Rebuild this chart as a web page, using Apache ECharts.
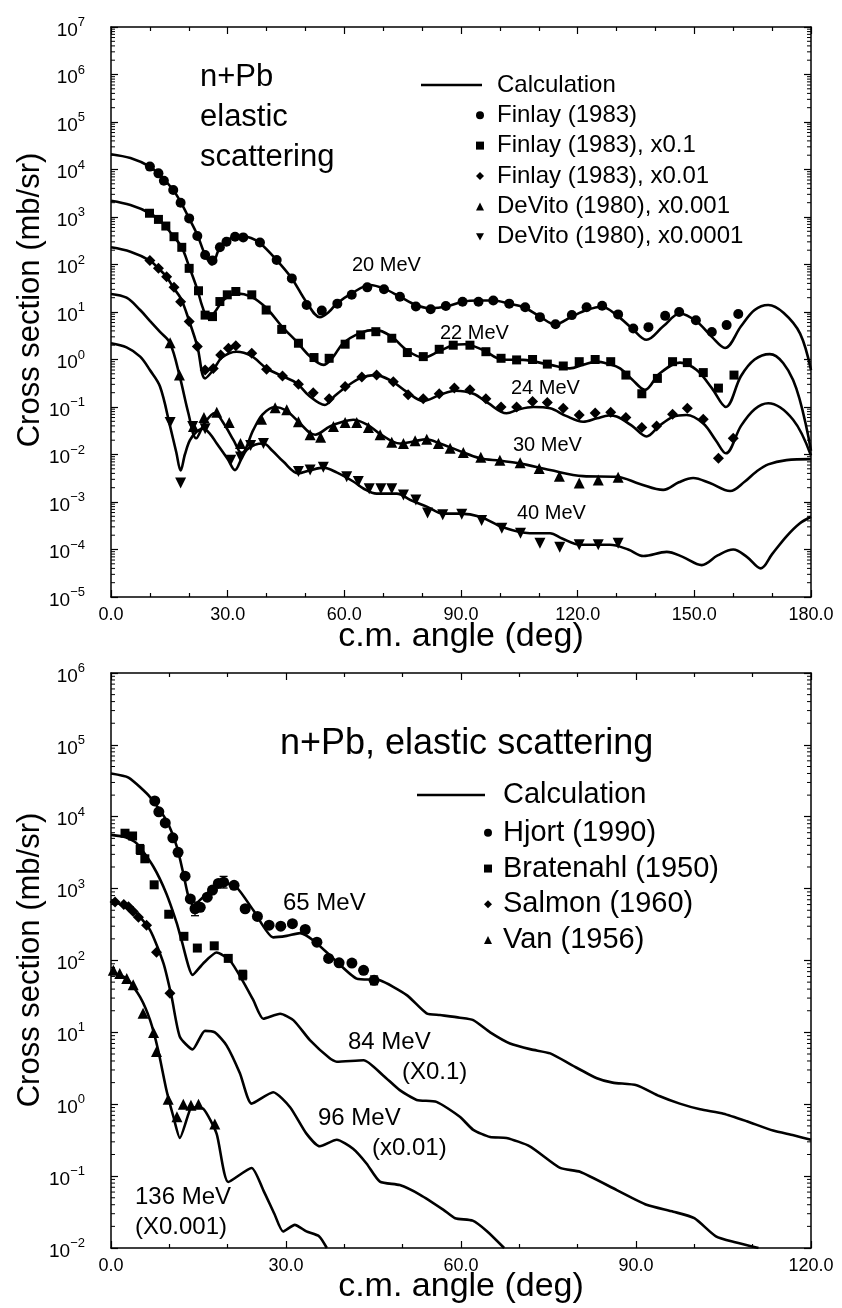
<!DOCTYPE html>
<html>
<head>
<meta charset="utf-8">
<script src="https://cdn.jsdelivr.net/npm/echarts@6/dist/echarts.min.js"></script>
<style>
html,body{margin:0;padding:0;background:#fff;}
#chart{width:842px;height:1308px;}
</style>
</head>
<body>
<div id="chart"></div>
<script>
// ---------------- TOP PANEL DATA (angle deg, mb/sr) ----------------
const calc20 = [[0,21000],[5,17400],[10,11500],[13,7000],[16,3700],[18,2000],[20.1,930],[22.2,420],[24.2,160],[25.9,100],[28,230],[30,330],[31.9,385],[33.6,398],[36,360],[38.3,284],[42.6,124],[46.5,51],[50.3,16],[53.7,7.8],[56,10],[58,15],[62,25],[66.6,37],[70.2,31],[74.3,21],[78.4,14],[82,12],[86.3,13],[90.6,16.6],[94.5,17.5],[98.3,17.4],[102.4,15],[106,12.7],[110.3,8],[114.2,5.5],[118.5,8],[122.3,11],[126.2,12.9],[130,8.6],[134,4.5],[137.7,2.6],[142,5],[146.3,9.3],[150.6,6.3],[154.5,3],[157.9,1.75],[162,5],[165.5,11],[169,14],[173,9.5],[177.2,3.5],[180,0.6]];
const calc22 = [[0,2200],[5,1780],[10,1200],[13,780],[16,400],[18.2,230],[20.1,90],[22.2,30],[23.5,13],[25,7.4],[26.5,9.5],[29,18],[32.3,24.6],[36,21],[40,12],[43.9,5],[47.7,2.4],[51,1.2],[54.6,0.77],[57,1.1],[59.7,2.2],[64,3.6],[67.9,4.2],[72,3.1],[76,1.58],[80.3,1.1],[84.4,1.5],[88,2.0],[91,2.1],[95.7,1.58],[100.5,1.0],[106,0.98],[112.9,0.77],[118,0.65],[121.5,0.78],[124.9,0.9],[128,0.8],[130.9,0.65],[134,0.38],[137.3,0.23],[141,0.5],[146.3,0.86],[150.6,0.6],[154.5,0.25],[158.1,0.1],[162,0.45],[165.5,1.0],[169.4,1.3],[175.4,0.37],[180,0.012]];
const calc24 = [[0,230],[5,186],[10,121],[12.2,83],[14.3,55],[16,33],[18,19],[20.1,6.5],[22.2,1.9],[24.2,0.4],[26.3,0.6],[28.5,1.1],[32.3,1.46],[36,1.2],[40,0.65],[44,0.45],[47.7,0.32],[51,0.17],[55,0.11],[57.5,0.17],[60.6,0.27],[64,0.4],[67.9,0.47],[72,0.36],[76,0.21],[80.3,0.134],[84.6,0.18],[88.5,0.22],[93.2,0.19],[97,0.12],[101.7,0.074],[105,0.09],[108.6,0.10],[112.9,0.094],[117,0.065],[121.4,0.049],[125,0.058],[128,0.066],[130,0.063],[134,0.04],[137.7,0.024],[141,0.04],[144.5,0.062],[148,0.068],[152.3,0.045],[155.5,0.02],[158.1,0.0106],[162,0.04],[165.5,0.09],[169,0.12],[175.4,0.054],[180,0.0095]];
const calc30 = [[0,24],[4,20],[7.5,11],[10,6.5],[12.6,3.8],[15.2,2.2],[17.7,0.43],[19.9,0.074],[21.9,0.022],[24,0.045],[26.7,0.075],[29,0.045],[31.5,0.02],[33.6,0.0106],[36.6,0.033],[39,0.07],[42.2,0.10],[45,0.085],[47.7,0.054],[52.5,0.026],[56.3,0.039],[60,0.05],[62.3,0.054],[66,0.042],[69.2,0.027],[74.3,0.017],[78,0.019],[81.1,0.021],[84.6,0.017],[88.9,0.0125],[94.9,0.0083],[100,0.0074],[105.2,0.0065],[112.9,0.0047],[121.4,0.0035],[130,0.0034],[136,0.0024],[142,0.0018],[146,0.0026],[149.7,0.0032],[154,0.0025],[159.2,0.0017],[163,0.0027],[166,0.0044],[169,0.0062],[173.7,0.0076],[180,0.008]];
const calc40 = [[0,2.2],[4,1.8],[7.5,1.15],[10,0.6],[12.6,0.27],[15.2,0.039],[16.8,0.011],[17.9,0.0046],[19,0.01],[20.3,0.02],[22,0.03],[23.7,0.035],[25.5,0.027],[27.2,0.017],[30,0.008],[31.9,0.0047],[33.5,0.008],[34.9,0.0125],[37,0.016],[39.2,0.017],[41.5,0.012],[44.3,0.0071],[48.2,0.004],[51,0.0046],[54.6,0.0053],[58,0.0042],[62.3,0.0027],[65,0.0019],[68.3,0.0015],[73.5,0.0015],[77,0.0011],[81.2,0.0008],[85.5,0.00057],[89.7,0.00057],[94.9,0.00049],[100.9,0.00029],[107.7,0.00022],[112.9,0.00022],[116,0.00017],[120.6,0.000126],[128.3,0.000126],[133,0.0001],[136.9,0.000073],[142.9,0.000089],[147,0.00007],[151.9,0.000047],[156,0.000075],[160,0.0001],[163.5,0.00007],[167.1,0.00004],[170,0.00008],[173.7,0.00019],[177,0.00035],[180,0.00049]];

const finlay20 = [[10,11500],[12.2,8300],[13.6,5800],[16,3700],[17.9,2000],[20.1,935],[22.2,398],[24.2,158],[26.1,121],[28,230],[29.7,300],[31.9,385],[34,372],[38.3,290],[42.6,124],[46.5,51],[50.3,14],[54.2,10.7],[58.2,15],[61.9,23],[65.9,33],[70.2,30],[74.3,21],[78.4,13],[82.2,11.4],[86.1,13.4],[90.4,16.5],[94.5,16.5],[98.3,17.4],[102.4,15],[106.5,12.6],[110.3,7.8],[114.3,5.5],[118.5,8.6],[122.3,12.6],[126.3,13.5],[130.4,8.9],[134.3,4.5],[138.2,4.8],[142.5,8.3],[146.1,10],[150.4,6.7],[154.5,3.8],[158.3,5.3],[161.3,9.1]];
const finlay22 = [[9.9,1200],[12.2,890],[14.1,645],[16.2,385],[18.2,230],[20.1,83],[22.5,28],[24.2,8.6],[26.1,8],[28,16.6],[29.9,23],[32.1,27],[36.2,23],[39.9,11],[43.9,4.3],[48.2,2.2],[52.2,1.1],[56.1,1.06],[60.2,2.1],[64.2,3.3],[68.1,3.85],[72.2,2.8],[76.2,1.4],[80.3,1.15],[84.4,1.64],[88,2.0],[92.3,2.0],[96.4,1.46],[100.3,1.06],[104.3,0.98],[108.4,1.0],[112.2,0.8],[116.3,0.73],[120.4,0.9],[124.5,1.0],[128.5,0.9],[132.4,0.47],[136.5,0.19],[140.5,0.4],[144.4,0.9],[148.2,0.86],[152.3,0.53],[156.2,0.25],[160.2,0.47]];
const finlay24 = [[10,121],[12.2,83],[14.3,55],[16.2,33],[17.9,16.5],[20.1,6.3],[22.2,1.87],[24.2,0.6],[26.3,0.65],[28.2,1.24],[30.2,1.72],[32.1,1.95],[36.2,1.35],[40,0.62],[44.1,0.45],[48.2,0.30],[52,0.2],[56.1,0.15],[60.2,0.27],[64.5,0.43],[68.3,0.47],[72.6,0.34],[76.4,0.18],[80.3,0.15],[84.4,0.19],[88.3,0.25],[92.3,0.23],[96.4,0.15],[100.3,0.1],[104.3,0.1],[108.4,0.13],[112.2,0.125],[116.3,0.094],[120.4,0.068],[124.5,0.075],[128.5,0.078],[132.4,0.06],[136.5,0.037],[140.3,0.04],[144.4,0.07],[148.2,0.094],[152.3,0.055],[156.2,0.0083],[160,0.022]];
const devito30 = [[15.2,2.25],[17.6,0.47],[21.2,0.039],[23.9,0.06],[27.2,0.078],[30.4,0.047],[33.3,0.017],[38.7,0.055],[42.2,0.097],[45.2,0.087],[48.2,0.049],[51.2,0.026],[53.9,0.023],[57.2,0.039],[60.2,0.047],[63.2,0.047],[66.2,0.037],[69.2,0.026],[72.2,0.018],[75.2,0.017],[78.2,0.0195],[81.2,0.021],[84.2,0.017],[87.2,0.0135],[90.6,0.011],[95.1,0.0087],[100,0.0076],[105.2,0.0067],[110.1,0.0051],[115.3,0.0035],[120.4,0.0025],[125.3,0.0029],[130.4,0.0033]];
const devito40 = [[15.2,0.047],[17.9,0.0025],[21,0.039],[24.2,0.035],[30.8,0.0076],[33.3,0.0089],[35.9,0.0155],[39.2,0.017],[48.2,0.0044],[51.2,0.0047],[54.6,0.0054],[60.6,0.0034],[63.6,0.0027],[66.4,0.0019],[69.4,0.0019],[72.2,0.0019],[75.2,0.0014],[78.4,0.0011],[81.4,0.00059],[85.3,0.00054],[90.2,0.00055],[95.3,0.00041],[100.5,0.00028],[105.3,0.00022],[110.3,0.000135],[115.4,0.000112],[120.4,0.000126],[125.3,0.000126],[130.4,0.000135]];

// ---------------- BOTTOM PANEL DATA ----------------
const calc65 = [[0,40000],[3,35000],[6.7,18800],[9.5,8900],[11.3,3800],[12.4,1620],[13.3,760],[14.1,590],[16.4,850],[19,1230],[21.5,1050],[24.4,500],[27.8,210],[30.1,220],[32.4,240],[34.7,190],[38.1,107],[42.1,56],[46.1,53],[50.7,33],[54.1,18.4],[56.4,17.4],[59.8,16],[62.1,14.8],[65,10],[68.4,7],[72,5.8],[75.3,5.1],[79,3.5],[83.3,2.3],[86,2.0],[90.1,1.84],[94,1.3],[97.5,1.02],[101,0.85],[105,0.74],[109,0.58],[113.5,0.43],[117,0.37],[120,0.32]];
const calc84 = [[0,5600],[2.5,5200],[4.4,4270],[7.3,2000],[9.5,850],[11.3,325],[12.1,190],[14,63],[15.8,91],[18.1,129],[20.4,100],[22.7,50],[24.4,28],[26.1,15.5],[29,18.2],[31.3,14.7],[34.1,7.8],[37.5,4.35],[38.7,3.9],[43.3,4.1],[46.7,2.5],[49.5,1.57],[52.4,1.15],[55.8,1.08],[59.8,0.67],[62.1,0.44],[65,0.35],[67.8,0.34],[71.8,0.26],[77,0.13],[80.4,0.115],[86.7,0.064],[91.8,0.04],[96.4,0.032],[100,0.026],[103.7,0.0145],[107,0.012],[111,0.01]];
const calc96 = [[0,680],[3.8,500],[6.7,265],[9,91],[10.4,31],[11.8,8.7],[14,5.8],[16.1,10.5],[17.8,10],[19.8,6.6],[22.1,2.7],[24.1,1.02],[27.8,1.47],[30.7,0.91],[33.5,0.39],[35.8,0.26],[38.7,0.32],[41.5,0.24],[43.8,0.15],[46.1,0.084],[49.5,0.075],[53,0.055],[57,0.034],[59,0.026],[62,0.024],[64.5,0.017],[67.4,0.01]];
const calc136 = [[0,69],[2.7,56],[5,31],[6.7,14.8],[8.1,5.6],[9.5,1.58],[10.7,0.67],[11.8,0.34],[13.3,0.74],[13.8,0.91],[15.8,0.87],[18.1,0.39],[20.1,0.083],[24.1,0.13],[26.1,0.064],[28,0.03],[29.5,0.017],[31.5,0.021],[33.5,0.017],[35.7,0.0145],[37,0.01]];

const hjort = [[7.5,16600],[8.2,11700],[9.3,8200],[10.6,5100],[11.5,3200],[12.7,1490],[13.6,720],[14.4,525],[15.3,550],[16.5,760],[17.4,955],[18.4,1180],[19.3,1230],[21.1,1110],[23,525],[25.1,410],[27.1,310],[29.1,300],[31.1,325],[33.3,270],[35.3,180],[37.3,107],[39.1,93],[41.3,92],[43.3,73],[45.1,53]];
const bratenahl = [[2.4,5900],[3.7,5400],[5,3500],[5.8,2600],[7.4,1130],[9.9,440],[12.5,217],[14.8,149],[17.7,160],[20.1,107],[22.6,63]];
const salmon = [[0.7,650],[2.2,600],[3,560],[3.8,480],[4.7,400],[6.1,310],[7.8,130],[10.1,35]];
const van = [[0.4,73],[1.5,66],[2.7,56],[3.8,46],[5.5,18.4],[7.3,10],[7.8,5.4],[9.8,1.17],[11.3,0.67],[12.4,1.0],[13.7,0.97],[15,1.0],[17.8,0.53]];
// error bars: [angle, low, high]
const errorBars = [[14.4,420,650],[19.3,1020,1480],[45.1,46,61],[5,3000,4100],[22.6,54,73]];

// axis labels
const xLabelsTop = [0,30,60,90,120,150,180];
const xLabelsBottom = [0,30,60,90,120];

const FONT = "'Liberation Sans', Arial, Helvetica, sans-serif";
const BLACK = '#000';

function minorTickValues(lo, hi) {
  const out = [];
  for (let e = lo; e < hi; e++) for (let m = 2; m <= 9; m++) out.push(m * Math.pow(10, e));
  return out;
}
function yLabel(v) {
  const e = Math.round(Math.log10(v));
  return '{b|10}{s|' + (e < 0 ? '\u2212' + (-e) : e) + '}';
}
const yRich = {
  b: {fontSize: 19, fontFamily: FONT, color: BLACK, padding: [7, 0, 0, 0]},
  s: {fontSize: 13, fontFamily: FONT, color: BLACK, padding: [0, 0, 9, 0]}
};

function xAxes(gridIndex, max, labels) {
  const base = {
    gridIndex, type: 'value', min: 0, max, interval: 30,
    axisLine: {show: true, onZero: false, lineStyle: {color: BLACK, width: 1.5}},
    axisTick: {show: true, inside: true, length: 7, lineStyle: {color: BLACK, width: 1.2}},
    minorTick: {show: true, splitNumber: 3, length: 4, lineStyle: {color: BLACK, width: 1.2}},
    splitLine: {show: false}, minorSplitLine: {show: false}
  };
  return [
    Object.assign({}, base, {position: 'bottom', axisLabel: {show: true, margin: 9, fontSize: 18, fontFamily: FONT, color: BLACK,
      formatter: v => labels.indexOf(v) >= 0 ? v.toFixed(1) : ''}}),
    Object.assign({}, base, {position: 'top', axisLabel: {show: false}})
  ];
}
function yAxes(gridIndex, min, max) {
  const base = {
    gridIndex, type: 'log', logBase: 10, min, max, interval: 1,
    axisLine: {show: true, onZero: false, lineStyle: {color: BLACK, width: 1.5}},
    axisTick: {show: true, inside: true, length: 7, lineStyle: {color: BLACK, width: 1.2}},
    splitLine: {show: false}
  };
  return [
    Object.assign({}, base, {position: 'left', axisLabel: {show: true, margin: 26, formatter: yLabel, rich: yRich}}),
    Object.assign({}, base, {position: 'right', axisLabel: {show: false}})
  ];
}

function tickSeries(xi, yi, xmax, vals) {
  return {
    type: 'custom', xAxisIndex: xi, yAxisIndex: yi, silent: true, clip: false, z: 5,
    data: vals.map(v => [0, v]),
    renderItem: function (params, api) {
      const v = api.value(1);
      const l = api.coord([0, v]);
      const r = api.coord([xmax, v]);
      const st = {stroke: BLACK, lineWidth: 1};
      return {type: 'group', children: [
        {type: 'line', shape: {x1: l[0], y1: l[1], x2: l[0] + 4, y2: l[1]}, style: st},
        {type: 'line', shape: {x1: r[0] - 4, y1: r[1], x2: r[0], y2: r[1]}, style: st}
      ]};
    }
  };
}

function calcLine(data, xi, yi, smooth) {
  return {name: 'Calculation', type: 'line', xAxisIndex: xi, yAxisIndex: yi, data,
    showSymbol: false, symbol: 'none', smooth, z: 2,
    lineStyle: {color: BLACK, width: 2.6}, itemStyle: {color: BLACK}};
}
function dots(name, data, xi, yi, symbol, size) {
  return {name, type: 'scatter', xAxisIndex: xi, yAxisIndex: yi, data, symbol, symbolSize: size, z: 3,
    itemStyle: {color: BLACK, opacity: 1}};
}
const TRI_DOWN = 'path://M0,0 L10,0 L5,9 Z';

function txt(text, x, y, size, align) {
  return {type: 'text', x, y, z: 10, style: {text, fontSize: size, fontFamily: FONT, fill: BLACK,
    align: align || 'left', verticalAlign: 'middle', textAlign: align || 'left', textVerticalAlign: 'middle'}};
}

const chart = echarts.init(document.getElementById('chart'), null, {renderer: 'canvas'});
const legendText = (size, lh, padLeft) => ({fontSize: size, fontFamily: FONT, color: BLACK, lineHeight: lh, padding: [0, 0, 0, padLeft]});

chart.setOption({
  backgroundColor: '#fff',
  animation: false,
  grid: [
    {left: 111, top: 27, width: 700, height: 570},
    {left: 111, top: 673, width: 700, height: 575}
  ],
  xAxis: [].concat(xAxes(0, 180, xLabelsTop), xAxes(1, 120, xLabelsBottom)),
  yAxis: [].concat(yAxes(0, 1e-5, 1e7), yAxes(1, 1e-2, 1e6)),
  legend: [
    {data: [{name: 'Calculation', icon: 'rect'}], left: 421, top: 70, orient: 'vertical', itemWidth: 61, itemHeight: 2.6, itemGap: 0, padding: 0,
      selectedMode: false, textStyle: legendText(24, 30, 10)},
    {data: [{name: 'Finlay (1983)', icon: 'circle'}, {name: 'Finlay (1983), x0.1', icon: 'rect'}, {name: 'Finlay (1983), x0.01', icon: 'diamond'},
      {name: 'DeVito (1980), x0.001', icon: 'triangle'}, {name: 'DeVito (1980), x0.0001', icon: TRI_DOWN}],
      left: 476, top: 100, orient: 'vertical', itemWidth: 8, itemHeight: 8, itemGap: 0, padding: 0,
      selectedMode: false, textStyle: legendText(24, 30.4, 8)},
    {data: [{name: 'Calculation', icon: 'rect'}], left: 417, top: 777, orient: 'vertical', itemWidth: 68, itemHeight: 2.6, itemGap: 0, padding: 0,
      selectedMode: false, textStyle: legendText(29, 36, 13)},
    {data: [{name: 'Hjort (1990)', icon: 'circle'}, {name: 'Bratenahl (1950)', icon: 'rect'}, {name: 'Salmon (1960)', icon: 'diamond'},
      {name: 'Van (1956)', icon: 'triangle'}],
      left: 484, top: 815, orient: 'vertical', itemWidth: 8, itemHeight: 8, itemGap: 0, padding: 0,
      selectedMode: false, textStyle: legendText(29, 35.7, 6)}
  ],
  series: [
    calcLine(calc20, 0, 0, 0.35), calcLine(calc22, 0, 0, 0.35), calcLine(calc24, 0, 0, 0.35),
    calcLine(calc30, 0, 0, 0.35), calcLine(calc40, 0, 0, 0.35),
    dots('Finlay (1983)', finlay20, 0, 0, 'circle', 10),
    dots('Finlay (1983), x0.1', finlay22, 0, 0, 'rect', 9),
    dots('Finlay (1983), x0.01', finlay24, 0, 0, 'diamond', 11),
    dots('DeVito (1980), x0.001', devito30, 0, 0, 'triangle', 11),
    dots('DeVito (1980), x0.0001', devito40, 0, 0, TRI_DOWN, 11),
    tickSeries(0, 0, 180, minorTickValues(-5, 7)),

    calcLine(calc65, 2, 2, 0.2), calcLine(calc84, 2, 2, 0.2), calcLine(calc96, 2, 2, 0.2), calcLine(calc136, 2, 2, 0.2),
    dots('Hjort (1990)', hjort, 2, 2, 'circle', 11),
    dots('Bratenahl (1950)', bratenahl, 2, 2, 'rect', 9),
    dots('Salmon (1960)', salmon, 2, 2, 'diamond', 11),
    dots('Van (1956)', van, 2, 2, 'triangle', 11),
    {
      type: 'custom', xAxisIndex: 2, yAxisIndex: 2, silent: true, z: 4,
      data: errorBars,
      renderItem: function (params, api) {
        const a = api.coord([api.value(0), api.value(1)]);
        const b = api.coord([api.value(0), api.value(2)]);
        const st = {stroke: BLACK, lineWidth: 1.3};
        return {type: 'group', children: [
          {type: 'line', shape: {x1: a[0], y1: a[1], x2: b[0], y2: b[1]}, style: st},
          {type: 'line', shape: {x1: a[0] - 4, y1: a[1], x2: a[0] + 4, y2: a[1]}, style: st},
          {type: 'line', shape: {x1: b[0] - 4, y1: b[1], x2: b[0] + 4, y2: b[1]}, style: st}
        ]};
      }
    },
    tickSeries(2, 2, 120, minorTickValues(-2, 6))
  ],
  graphic: [
    txt('n+Pb', 200, 77, 31), txt('elastic', 200, 117, 31), txt('scattering', 200, 157, 31),
    txt('20 MeV', 352, 265, 20), txt('22 MeV', 440, 333, 20), txt('24 MeV', 511, 388, 20),
    txt('30 MeV', 513, 445, 20), txt('40 MeV', 517, 513, 20),
    txt('c.m. angle (deg)', 461, 637, 34, 'center'),
    Object.assign(txt('Cross section (mb/sr)', 30, 300, 31, 'center'), {rotation: Math.PI / 2}),

    txt('n+Pb, elastic scattering', 280, 744, 36),
    txt('65 MeV', 283, 903, 24),
    txt('84 MeV', 348, 1042, 24), txt('(X0.1)', 402, 1072, 24),
    txt('96 MeV', 318, 1118, 24), txt('(x0.01)', 372, 1148, 24),
    txt('136 MeV', 135, 1197, 24), txt('(X0.001)', 135, 1227, 24),
    txt('c.m. angle (deg)', 461, 1287, 34, 'center'),
    Object.assign(txt('Cross section (mb/sr)', 30, 960, 31, 'center'), {rotation: Math.PI / 2})
  ]
});
</script>
</body>
</html>
